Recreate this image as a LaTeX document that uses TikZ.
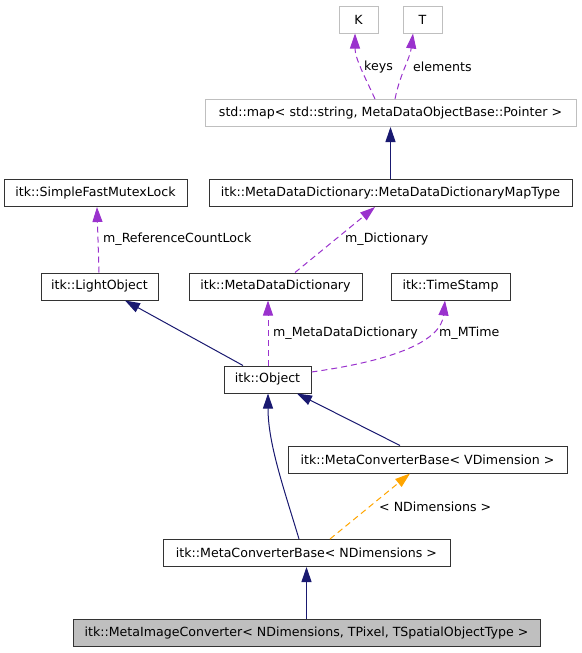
\documentclass[tikz,border=0pt]{standalone}
\usepackage{fontspec}
\setmainfont{DejaVu Sans}
\usetikzlibrary{arrows.meta, positioning, calc}
\definecolor{edgeblue}{HTML}{191970}
\definecolor{edgepurple}{HTML}{9A32CD}
\definecolor{edgeorange}{HTML}{FFA500}
\definecolor{boxgray}{HTML}{BFBFBF}

\begin{document}
\begin{tikzpicture}[x=1pt, y=-1pt,
    cls/.style={draw=black!80, line width=1pt, minimum height=27pt, inner sep=0pt, font=\fontsize{12.6}{14}\selectfont},
    ext/.style={cls, draw=boxgray},
    main/.style={cls, fill=boxgray},
    lbl/.style={inner sep=0pt, font=\fontsize{12.6}{14}\selectfont},
    inherit/.style={edgeblue, line width=1pt, -{Triangle[length=15pt,width=10pt]}},
    usage/.style={edgepurple, line width=1pt, dash pattern=on 6pt off 4pt, -{Triangle[length=15pt,width=10pt]}},
    tmpl/.style={usage, edgeorange}]
    \useasboundingbox (0,0) rectangle (581,653);

    \node[ext, minimum width=39pt] (K) at (358.5,19.5) {K};
    \node[ext, minimum width=39pt] (T) at (422.5,19.5) {T};
    \node[ext, minimum width=371pt] (map) at (390.5,113) {std::map< std::string, MetaDataObjectBase::Pointer >};
    \node[cls, minimum width=363pt] (mapt) at (390.5,193) {itk::MetaDataDictionary::MetaDataDictionaryMapType};
    \node[cls, minimum width=183pt] (lock) at (95.5,193) {itk::SimpleFastMutexLock};
    \node[cls, minimum width=117pt] (light) at (99.5,286.5) {itk::LightObject};
    \node[cls, minimum width=173pt] (dict) at (275.5,286.5) {itk::MetaDataDictionary};
    \node[cls, minimum width=119pt] (stamp) at (450.5,286.5) {itk::TimeStamp};
    \node[cls, minimum width=87pt] (obj) at (267.5,379.5) {itk::Object};
    \node[cls, minimum width=279pt] (vbase) at (427.5,459.5) {itk::MetaConverterBase< VDimension >};
    \node[cls, minimum width=287pt] (nbase) at (306.5,553) {itk::MetaConverterBase< NDimensions >};
    \node[main, minimum width=467pt] (conv) at (306.5,633) {itk::MetaImageConverter< NDimensions, TPixel, TSpatialObjectType >};

    \draw[usage] ($(map.north)+(-15.5,0)$) .. controls +(-10,-22) and +(0,25) .. ($(K.south)+(-3.5,0)$);
    \node[lbl, anchor=west] (lkeys) at (364,67) {keys};
    \draw[usage] ($(map.north)+(4.5,0)$) .. controls +(5,-25) and +(-3,25) .. ($(T.south)+(-9.5,0)$);
    \node[lbl, anchor=west] (lelem) at (413,67) {elements};
    \draw[inherit] (mapt) -- (map);

    \draw[usage] ($(dict.north)+(19.5,0)$) -- ($(mapt.south)+(-15.5,0)$);
    \node[lbl, anchor=west] (ldict) at (345,239) {m\_Dictionary};
    \draw[usage] ($(light.north)+(-0.5,0)$) -- ($(lock.south)+(1.5,0)$);
    \node[lbl, anchor=west] (llock) at (103,239) {m\_ReferenceCountLock};

    \draw[inherit] ($(obj.north)+(-24.5,0)$) -- ($(light.south)+(25.5,0)$);
    \draw[usage] ($(obj.north)+(0.5,0)$) -- ($(dict.south)+(-7.5,0)$);
    \node[lbl, anchor=west] (lmdd) at (273,333) {m\_MetaDataDictionary};
    \draw[usage] ($(obj.east)+(0,-7.5)$) .. controls +(85,-12) and +(-4,40) .. ($(stamp.south)+(-5.5,0)$);
    \node[lbl, anchor=west] (ltime) at (439,333) {m\_MTime};

    \draw[inherit] ($(nbase.north)+(-7.5,0)$) .. controls +(-15,-50) and +(0,50) .. ($(obj.south)+(0.5,0)$);
    \draw[inherit] ($(vbase.north)+(-27.5,0)$) -- ($(obj.south)+(29.5,0)$);
    \draw[tmpl] ($(nbase.north)+(23.5,0)$) -- ($(vbase.south)+(-17.5,0)$);
    \node[lbl, anchor=west] (lnd) at (379,507) {< NDimensions >};
    \draw[inherit] (conv) -- (nbase);
\end{tikzpicture}
\end{document}
